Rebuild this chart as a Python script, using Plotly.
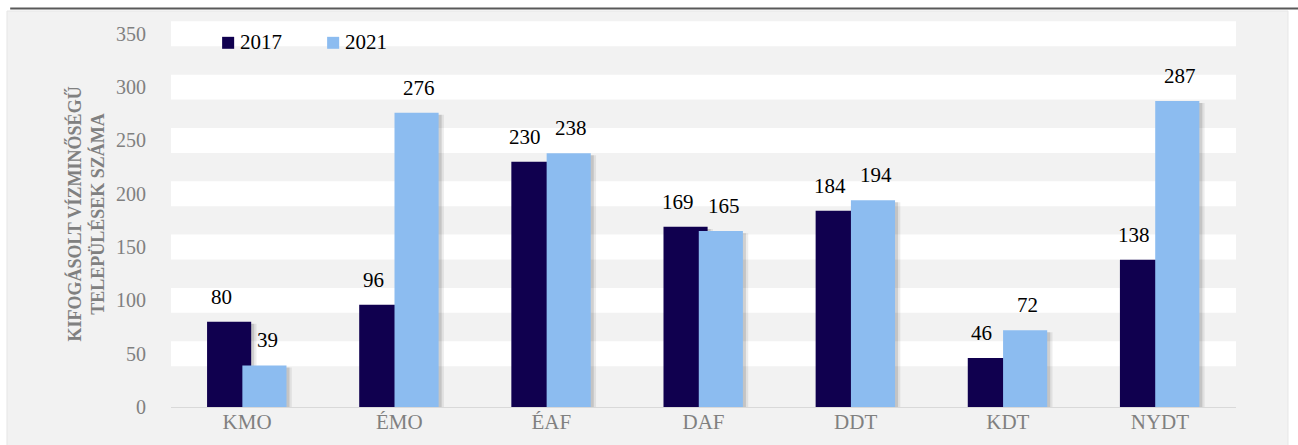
import plotly.graph_objects as go

regions = ["KMO", "ÉMO", "ÉAF", "DAF", "DDT", "KDT", "NYDT"]
values_2017 = [80, 96, 230, 169, 184, 46, 138]
values_2021 = [39, 276, 238, 165, 194, 72, 287]
y_ticks = [0, 50, 100, 150, 200, 250, 300, 350]
series_names = ["2017", "2021"]

FONT = "Liberation Serif"
C_2017 = "#10004f"
C_2021 = "#8cbcf0"
GRAY = "#808080"

bar_w = 0.29
off_2017 = -0.263
off_2021 = -0.031

fig = go.Figure()

# soft drop shadow behind the bars
for shift, alpha in [(0.035, 0.07), (0.02, 0.12)]:
    for vals, off in [(values_2017, off_2017), (values_2021, off_2021)]:
        fig.add_trace(go.Bar(x=regions, y=vals, base=-2, width=bar_w, offset=off + shift,
                             marker=dict(color=f"rgba(0,0,0,{alpha})", line_width=0),
                             showlegend=False, hoverinfo="skip"))

fig.add_trace(go.Bar(x=regions, y=values_2017, name=series_names[0], width=bar_w, offset=off_2017,
                     marker=dict(color=C_2017, line_width=0), showlegend=False))
fig.add_trace(go.Bar(x=regions, y=values_2021, name=series_names[1], width=bar_w, offset=off_2021,
                     marker=dict(color=C_2021, line_width=0), showlegend=False))

annotations = []
for cat, v17, v21 in zip(regions, values_2017, values_2021):
    annotations.append(dict(x=cat, y=v17, text=str(v17), xshift=-26, yshift=25, yanchor="middle",
                            showarrow=False, font=dict(family=FONT, size=21, color="black")))
    annotations.append(dict(x=cat, y=v21, text=str(v21), xshift=20, yshift=25, yanchor="middle",
                            showarrow=False, font=dict(family=FONT, size=21, color="black")))

shapes = [
    # gray panel and top rule
    dict(type="rect", xref="paper", yref="paper", x0=-0.154, x1=1.0488, y0=-0.1, y1=1.0259,
         fillcolor="#f2f2f2", line=dict(color="#e6e6e6", width=1), layer="below"),
    dict(type="line", xref="paper", yref="paper", x0=-0.151, x1=1.07, y0=1.0324, y1=1.0324,
         line=dict(color="#595959", width=2), layer="below"),
]
# white horizontal bands around each gridline
for v in y_ticks[1:]:
    shapes.append(dict(type="rect", xref="paper", yref="y", x0=0, x1=1, y0=v - 11.7, y1=v + 11.7,
                       fillcolor="white", line_width=0, layer="below"))

# hand-made legend: small squares plus text
for i, (name, col) in enumerate(zip(series_names, [C_2017, C_2021])):
    x0 = 0.048 + i * 0.0986
    shapes.append(dict(type="rect", xref="paper", yref="paper", x0=x0, x1=x0 + 0.0113,
                       y0=0.928, y1=0.959, fillcolor=col, line_width=0))
    annotations.append(dict(xref="paper", yref="paper", x=x0 + 0.0150, y=0.945, text=name,
                            xanchor="left", yanchor="middle", showarrow=False,
                            font=dict(family=FONT, size=21, color="black")))

fig.update_layout(
    width=1298, height=445,
    margin=dict(l=171, r=62, t=21, b=38),
    barmode="overlay",
    paper_bgcolor="white",
    plot_bgcolor="rgba(0,0,0,0)",
    font=dict(family=FONT, color=GRAY),
    shapes=shapes,
    annotations=annotations,
    showlegend=False,
)
fig.update_xaxes(showgrid=False, ticks="", showline=False, automargin=False,
                 tickfont=dict(family=FONT, size=21, color=GRAY))
fig.update_yaxes(range=[0, 362], tickvals=y_ticks, showgrid=False, automargin=False,
                 zeroline=True, zerolinecolor="#d9d9d9", zerolinewidth=1,
                 ticks="outside", ticklen=20, tickcolor="rgba(0,0,0,0)",
                 tickfont=dict(family=FONT, size=20, color=GRAY),
                 title=dict(text="<b>KIFOGÁSOLT VÍZMINŐSÉGŰ<br>TELEPÜLÉSEK SZÁMA</b>",
                            font=dict(family=FONT, size=18, color=GRAY), standoff=6))

fig.write_html("out.html", config={"displayModeBar": False},
               post_script="document.body.style.margin='0';")
